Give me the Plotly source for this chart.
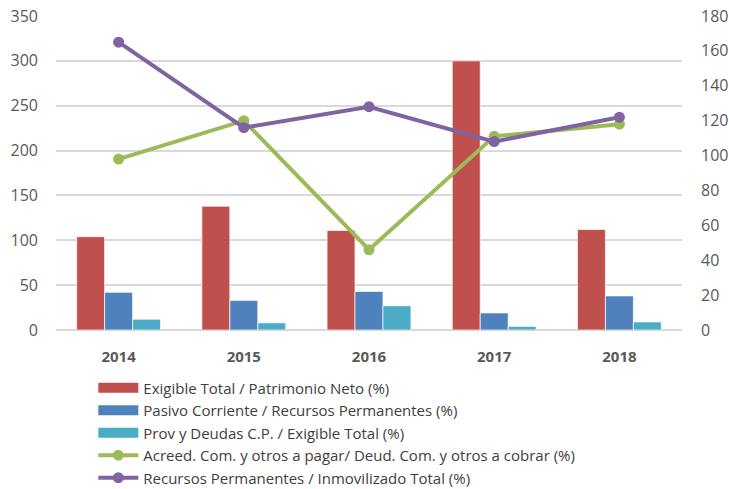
import plotly.graph_objects as go

years = ["2014", "2015", "2016", "2017", "2018"]
exigible_patrimonio = [104, 138, 111, 300, 112]
pasivo_recursos = [42, 33, 43, 19, 38]
prov_exigible = [12, 8, 27, 4, 9]
acreed_deud = [98, 120, 46, 111, 118]
recursos_inmov = [165, 116, 128, 108, 122]

names = [
    "Exigible Total / Patrimonio Neto (%)",
    "Pasivo Corriente / Recursos Permanentes (%)",
    "Prov y Deudas C.P. / Exigible Total (%)",
    "Acreed. Com. y otros a pagar/ Deud. Com. y otros a cobrar (%)",
    "Recursos Permanentes / Inmovilizado Total (%)",
]
colors = ["#C0504D", "#4F81BD", "#4BACC6", "#9BBB59", "#8064A2"]

fig = go.Figure()
bar_series = [exigible_patrimonio, pasivo_recursos, prov_exigible]
# legend-only entries giving wide rectangular swatches like the original
for nm, c in zip(names[:3], colors[:3]):
    fig.add_trace(go.Scatter(x=[None], y=[None], name=nm, mode="lines",
                             line=dict(color=c, width=12), legendgroup=nm, hoverinfo="skip"))
for vals, nm, c in zip(bar_series, names[:3], colors[:3]):
    fig.add_trace(go.Bar(x=years, y=vals, name=nm, legendgroup=nm, showlegend=False,
                         marker=dict(color=c, line=dict(color="white", width=0.7))))
for vals, nm, c in zip([acreed_deud, recursos_inmov], names[3:], colors[3:]):
    fig.add_trace(go.Scatter(x=years, y=vals, name=nm, yaxis="y2", mode="lines+markers",
                             line=dict(color=c, width=4), marker=dict(color=c, size=11)))

font = "Open Sans, Liberation Sans, sans-serif"
fig.update_layout(
    width=729, height=489,
    margin=dict(l=56, r=47, t=16, b=159, autoexpand=False),
    paper_bgcolor="white", plot_bgcolor="white",
    barmode="group", bargap=0.33, bargroupgap=0,
    font=dict(family=font, size=14, color="#595959"),
    showlegend=True,
    legend=dict(orientation="v", x=0.0596, y=-0.132, xanchor="left", yanchor="top",
                font=dict(size=15, color="#404040"), itemwidth=40,
                tracegroupgap=0, traceorder="normal", bgcolor="rgba(0,0,0,0)"),
    xaxis=dict(showgrid=False, showline=False, ticks="outside", ticklen=13, tickcolor="rgba(0,0,0,0)",
               automargin=False,
               tickfont=dict(size=15, color="#595959", family=font), tickprefix="<b>", ticksuffix="</b>"),
    yaxis=dict(range=[0, 350], dtick=50, showgrid=True, gridcolor="#D9D9D9", gridwidth=1.5,
               zeroline=True, zerolinecolor="#D9D9D9", zerolinewidth=1.5, showline=False,
               automargin=False, tickfont=dict(size=16, color="#595959"), ticks="", ticklabelstandoff=17),
    yaxis2=dict(range=[0, 180], dtick=20, overlaying="y", side="right", showgrid=False,
                zeroline=False, showline=False, automargin=False,
                tickfont=dict(size=16, color="#595959"), ticks="", ticklabelstandoff=18),
)
fig.write_html("out.html", config={"displayModeBar": False},
               post_script="document.body.style.margin='0';document.body.style.overflow='hidden';")
